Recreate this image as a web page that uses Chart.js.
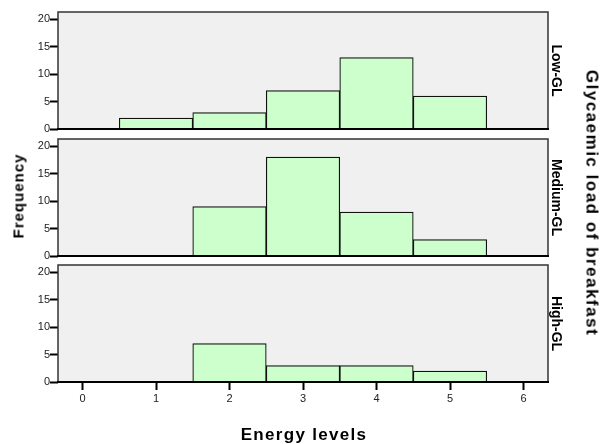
<!DOCTYPE html>
<html>
<head>
<meta charset="utf-8">
<script src="https://cdn.jsdelivr.net/npm/chart.js@4/dist/chart.umd.min.js"></script>
<style>
  html, body { margin: 0; padding: 0; background: #fff; }
  body { width: 600px; height: 444px; position: relative; overflow: hidden; font-family: 'Liberation Sans', Arial, sans-serif; }
  canvas { position: absolute; left: 0; background: transparent; }
  .ttl { position: absolute; white-space: nowrap; font-weight: bold; color: #000; line-height: 1; }
</style>
</head>
<body>
<canvas id="c1" width="600" height="140" style="top:0px"></canvas>
<canvas id="c2" width="600" height="135" style="top:130px"></canvas>
<canvas id="c3" width="600" height="186" style="top:258px"></canvas>
<div class="ttl" id="tFreq" style="left:18px; top:196px; font-size:15px; letter-spacing:1px; transform:translate(-50%,-50%) rotate(-90deg);">Frequency</div>
<div class="ttl" id="tGly" style="left:592px; top:203px; font-size:17px; letter-spacing:1.5px; transform:translate(-50%,-50%) rotate(90deg);">Glycaemic load of breakfast</div>
<div class="ttl" id="tEn" style="left:304px; top:434px; font-size:17px; letter-spacing:1.3px; transform:translate(-50%,-50%);">Energy levels</div>
<script>
// ---- data ----
const energyBins = [1, 2, 3, 4, 5];
const lowGL    = [2, 3, 7, 13, 6];
const mediumGL = [0, 9, 18, 8, 3];
const highGL   = [0, 7, 3, 3, 2];
const panelLabels = ['Low-GL', 'Medium-GL', 'High-GL'];
const xTickValues = [0, 1, 2, 3, 4, 5, 6];
const yTickValues = [0, 5, 10, 15, 20];
const xMin = -1 / 3, xMax = 6 + 1 / 3;
const yMin = 0, yMax = 21.3;

const FONT = "'Liberation Sans', Arial, sans-serif";

const framePlugin = {
  id: 'frame',
  beforeDatasetsDraw(chart) {
    const { ctx, chartArea: a } = chart;
    ctx.save();
    ctx.fillStyle = '#f0f0f0';
    ctx.fillRect(a.left, a.top, a.right - a.left, a.bottom - a.top);
    ctx.restore();
  },
  afterDatasetsDraw(chart) {
    const { ctx, chartArea: a } = chart;
    ctx.save();
    ctx.strokeStyle = '#333';
    ctx.lineWidth = 1.5;
    ctx.strokeRect(a.left, a.top, a.right - a.left, a.bottom - a.top);
    ctx.strokeStyle = '#000';
    ctx.lineWidth = 2.2;
    ctx.beginPath();
    ctx.moveTo(a.left - 1, a.bottom);
    ctx.lineTo(a.right + 1, a.bottom);
    ctx.stroke();
    ctx.restore();
  }
};

function makePanel(canvasId, values, label, isBottom, padTop, padBottom) {
  const data = energyBins.map((b, i) => ({ x: b, y: values[i] === 0 ? null : values[i] }));
  return new Chart(document.getElementById(canvasId), {
    type: 'bar',
    data: {
      datasets: [{
        data: data,
        backgroundColor: '#ccffcc',
        borderColor: '#111',
        borderWidth: 1.2,
        borderSkipped: 'start',
        barPercentage: 1.0,
        categoryPercentage: 1.0
      }]
    },
    options: {
      responsive: false,
      animation: false,
      devicePixelRatio: 1,
      layout: { padding: { left: 0, right: 32, top: padTop, bottom: padBottom } },
      plugins: { legend: { display: false }, tooltip: { enabled: false } },
      scales: {
        x: {
          type: 'linear',
          min: xMin, max: xMax,
          offset: false,
          display: isBottom,
          afterBuildTicks: s => { s.ticks = xTickValues.map(v => ({ value: v })); },
          afterFit: s => { s.height = isBottom ? 62 : 0; },
          grid: { display: true, drawOnChartArea: false, drawTicks: true, tickLength: 8, tickWidth: 2, tickColor: '#000', offset: false },
          border: { display: false },
          ticks: { color: '#222', font: { family: FONT, size: 11 }, padding: 2, maxRotation: 0, autoSkip: false }
        },
        y: {
          type: 'linear',
          position: 'left',
          min: yMin, max: yMax,
          afterBuildTicks: s => { s.ticks = yTickValues.map(v => ({ value: v })); },
          afterFit: s => { s.width = 58; s.paddingTop = 0; s.paddingBottom = 0; },
          grid: { display: true, drawOnChartArea: false, drawTicks: true, tickLength: 8, tickWidth: 2, tickColor: '#000' },
          border: { display: false },
          ticks: { color: '#222', font: { family: FONT, size: 11 }, padding: 0, autoSkip: false }
        },
        y2: {
          type: 'linear',
          position: 'right',
          min: yMin, max: yMax,
          afterFit: s => { s.width = 20; s.paddingTop = 0; s.paddingBottom = 0; },
          grid: { display: false },
          border: { display: false },
          ticks: { display: false },
          title: { display: true, text: label, color: '#000', font: { family: FONT, size: 14, weight: 'bold' }, padding: { top: 4, bottom: 4 } }
        }
      }
    },
    plugins: [framePlugin]
  });
}

makePanel('c1', lowGL, panelLabels[0], false, 12, 11);
makePanel('c2', mediumGL, panelLabels[1], false, 9, 9);
makePanel('c3', highGL, panelLabels[2], true, 7, 0);
</script>
</body>
</html>
